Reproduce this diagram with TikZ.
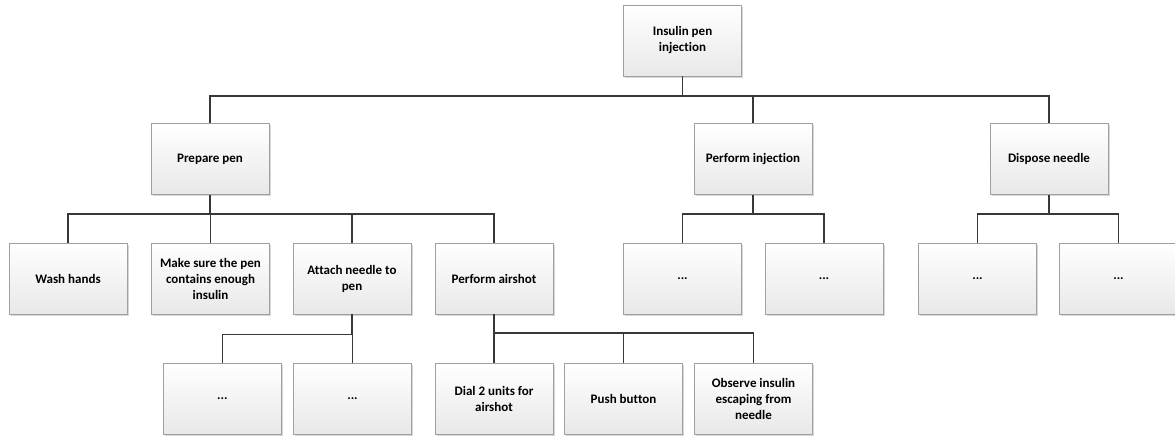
\documentclass[tikz,border=0pt]{standalone}
\usepackage{fontspec}
\setmainfont{Carlito}[Ligatures={NoCommon,NoRare,NoDiscretionary,NoContextual}]
\usetikzlibrary{shadows}
\definecolor{boxline}{HTML}{A0A0A0}
\definecolor{conn}{HTML}{383838}
\tikzset{
  x=1pt, y=-1pt,
  box/.style={draw=boxline, line width=0.9pt, top color=white, bottom color=black!9,
    minimum width=118pt, minimum height=71pt, inner sep=2pt, align=center,
    font=\fontsize{13}{16}\selectfont\bfseries,
    drop shadow={shadow xshift=1.6pt, shadow yshift=-1.6pt, opacity=0.35, fill=black!45}},
  conn/.style={draw=conn, line width=1.2pt},
}
\begin{document}
\begin{tikzpicture}
\useasboundingbox (0,0) rectangle (1175,436);
% level 0
\node[box] (root) at (682.5,40.5) {Insulin pen\\injection};
% level 1
\node[box] (prep) at (210,159) {Prepare pen};
\node[box] (inj) at (753,159) {Perform injection};
\node[box] (disp) at (1049,159) {Dispose needle};
% level 2
\node[box] (wash) at (68,278.5) {Wash hands};
\node[box] (make) at (210.5,278.5) {Make sure the pen\\contains enough\\insulin};
\node[box] (att) at (352,278.5) {Attach needle to\\pen};
\node[box] (air) at (494,278.5) {Perform airshot};
\node[box] (inja) at (682.5,278.5) {...};
\node[box] (injb) at (824,278.5) {...};
\node[box] (dispa) at (977.5,278.5) {...};
\node[box] (dispb) at (1118.5,278.5) {...};
% level 3
\node[box] (atta) at (222.3,398.7) {...};
\node[box] (attb) at (352.5,398.7) {...};
\node[box] (dial) at (494,398.7) {Dial 2 units for\\airshot};
\node[box] (push) at (623.5,398.7) {Push button};
\node[box] (obs) at (753.5,398.7) {Observe insulin\\escaping from\\needle};
% connectors
\foreach \c in {prep,inj,disp} \draw[conn] (root.south) -- ++(0,19.5) -| (\c.north);
\foreach \c in {wash,make,att,air} \draw[conn] (prep.south) -- ++(0,19) -| (\c.north);
\foreach \c in {inja,injb} \draw[conn] (inj.south) -- ++(0,19) -| (\c.north);
\foreach \c in {dispa,dispb} \draw[conn] (disp.south) -- ++(0,19) -| (\c.north);
\foreach \c in {atta,attb} \draw[conn] (att.south) -- ++(0,20) -| (\c.north);
\foreach \c in {dial,push,obs} \draw[conn] (air.south) -- ++(0,18.5) -| (\c.north);
\end{tikzpicture}
\end{document}
